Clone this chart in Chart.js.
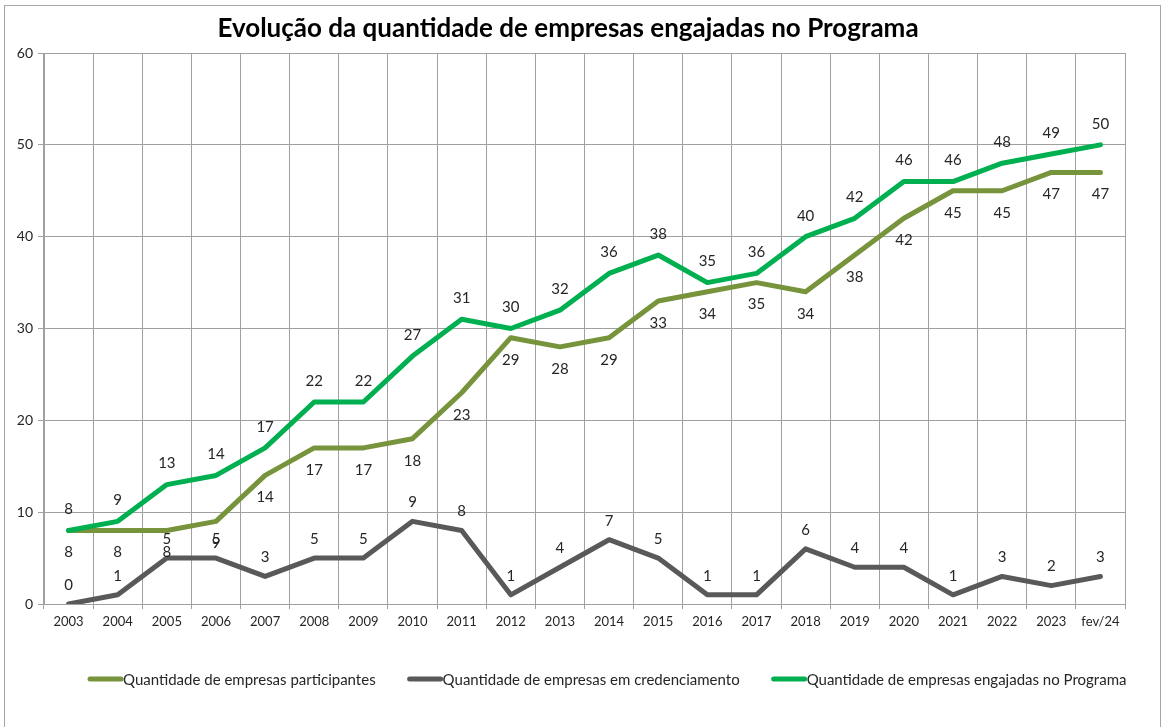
<!DOCTYPE html>
<html>
<head>
<meta charset="utf-8">
<script src="https://cdn.jsdelivr.net/npm/chart.js@4"></script>
<style>
html,body{margin:0;padding:0;background:#fff;}
#wrap{width:1165px;height:727px;position:relative;}
</style>
</head>
<body>
<div id="wrap"><canvas id="c" width="1165" height="727"></canvas></div>
<script>
const title = 'Evolução da quantidade de empresas engajadas no Programa';
const categories = ['2003','2004','2005','2006','2007','2008','2009','2010','2011','2012','2013','2014','2015','2016','2017','2018','2019','2020','2021','2022','2023','fev/24'];
const participantes = [8,8,8,9,14,17,17,18,23,29,28,29,33,34,35,34,38,42,45,45,47,47];
const credenciamento = [0,1,5,5,3,5,5,9,8,1,4,7,5,1,1,6,4,4,1,3,2,3];
const engajadas = [8,9,13,14,17,22,22,27,31,30,32,36,38,35,36,40,42,46,46,48,49,50];
const seriesNames = ['Quantidade de empresas participantes','Quantidade de empresas em credenciamento','Quantidade de empresas engajadas no Programa'];
const yMin = 0, yMax = 60, yStep = 10;

const colors = ['#77933C','#595959','#00B050'];
const labelOffsets = [22, -19, -21];
const FONT = 'Lato, "Open Sans", sans-serif';

const chromePlugin = {
  id: 'chrome',
  beforeDraw(chart) {
    const ctx = chart.ctx;
    ctx.save();
    ctx.fillStyle = '#fff';
    ctx.fillRect(0, 0, chart.width, chart.height);
    ctx.strokeStyle = '#A6A6A6';
    ctx.lineWidth = 1;
    ctx.strokeRect(4.5, 5.5, 1156, 740);
    ctx.restore();
  },
  afterDraw(chart) {
    const ctx = chart.ctx;
    ctx.save();
    ctx.fillStyle = '#000';
    ctx.font = 'bold 26px ' + FONT;
    ctx.textAlign = 'center';
    ctx.textBaseline = 'middle';
    ctx.fillText(title, 568, 29);
    ctx.font = '15px ' + FONT;
    ctx.textAlign = 'left';
    ctx.textBaseline = 'middle';
    let x = 88;
    const y = 679;
    chart.data.datasets.forEach((ds, i) => {
      ctx.strokeStyle = ds.borderColor;
      ctx.lineWidth = 5;
      ctx.lineCap = 'round';
      ctx.beginPath();
      ctx.moveTo(x + 2, y);
      ctx.lineTo(x + 33, y);
      ctx.stroke();
      ctx.fillStyle = '#262626';
      ctx.fillText(ds.label, x + 35, y + 1);
      x += 35 + ctx.measureText(ds.label).width + 32;
    });
    ctx.restore();
  },
  afterDatasetsDraw(chart) {
    const ctx = chart.ctx;
    ctx.save();
    ctx.font = '15px ' + FONT;
    ctx.fillStyle = '#262626';
    ctx.textAlign = 'center';
    ctx.textBaseline = 'middle';
    chart.data.datasets.forEach((ds, i) => {
      const meta = chart.getDatasetMeta(i);
      meta.data.forEach((pt, j) => {
        ctx.fillText(String(ds.data[j]), pt.x, pt.y + labelOffsets[i]);
      });
    });
    ctx.restore();
  }
};

new Chart(document.getElementById('c'), {
  type: 'line',
  data: {
    labels: categories,
    datasets: [
      { label: seriesNames[0], data: participantes, borderColor: colors[0], backgroundColor: colors[0], order: 2 },
      { label: seriesNames[1], data: credenciamento, borderColor: colors[1], backgroundColor: colors[1], order: 1 },
      { label: seriesNames[2], data: engajadas, borderColor: colors[2], backgroundColor: colors[2], order: 0 }
    ]
  },
  options: {
    responsive: false,
    animation: false,
    devicePixelRatio: 1,
    layout: { padding: { left: 0, right: 40, top: 53, bottom: 93 } },
    elements: {
      line: { borderWidth: 5, tension: 0, borderCapStyle: 'round', borderJoinStyle: 'round' },
      point: { radius: 0, hoverRadius: 0 }
    },
    plugins: { legend: { display: false }, title: { display: false }, tooltip: { enabled: false } },
    scales: {
      x: {
        offset: true,
        grid: { offset: true, color: '#A0A0A0', lineWidth: 1, drawTicks: true, tickLength: 5 },
        border: { color: '#A0A0A0' },
        ticks: { color: '#262626', font: { family: FONT, size: 13 }, padding: 5, maxRotation: 0, autoSkip: false },
        afterFit(s) { s.height = 30; }
      },
      y: {
        min: yMin, max: yMax,
        grid: { color: '#A0A0A0', lineWidth: 1, tickLength: 6 },
        border: { color: '#A0A0A0' },
        ticks: { stepSize: yStep, color: '#262626', font: { family: FONT, size: 14 }, padding: 5 },
        afterFit(s) { s.width = 44; }
      }
    }
  },
  plugins: [chromePlugin]
});
</script>
</body>
</html>
